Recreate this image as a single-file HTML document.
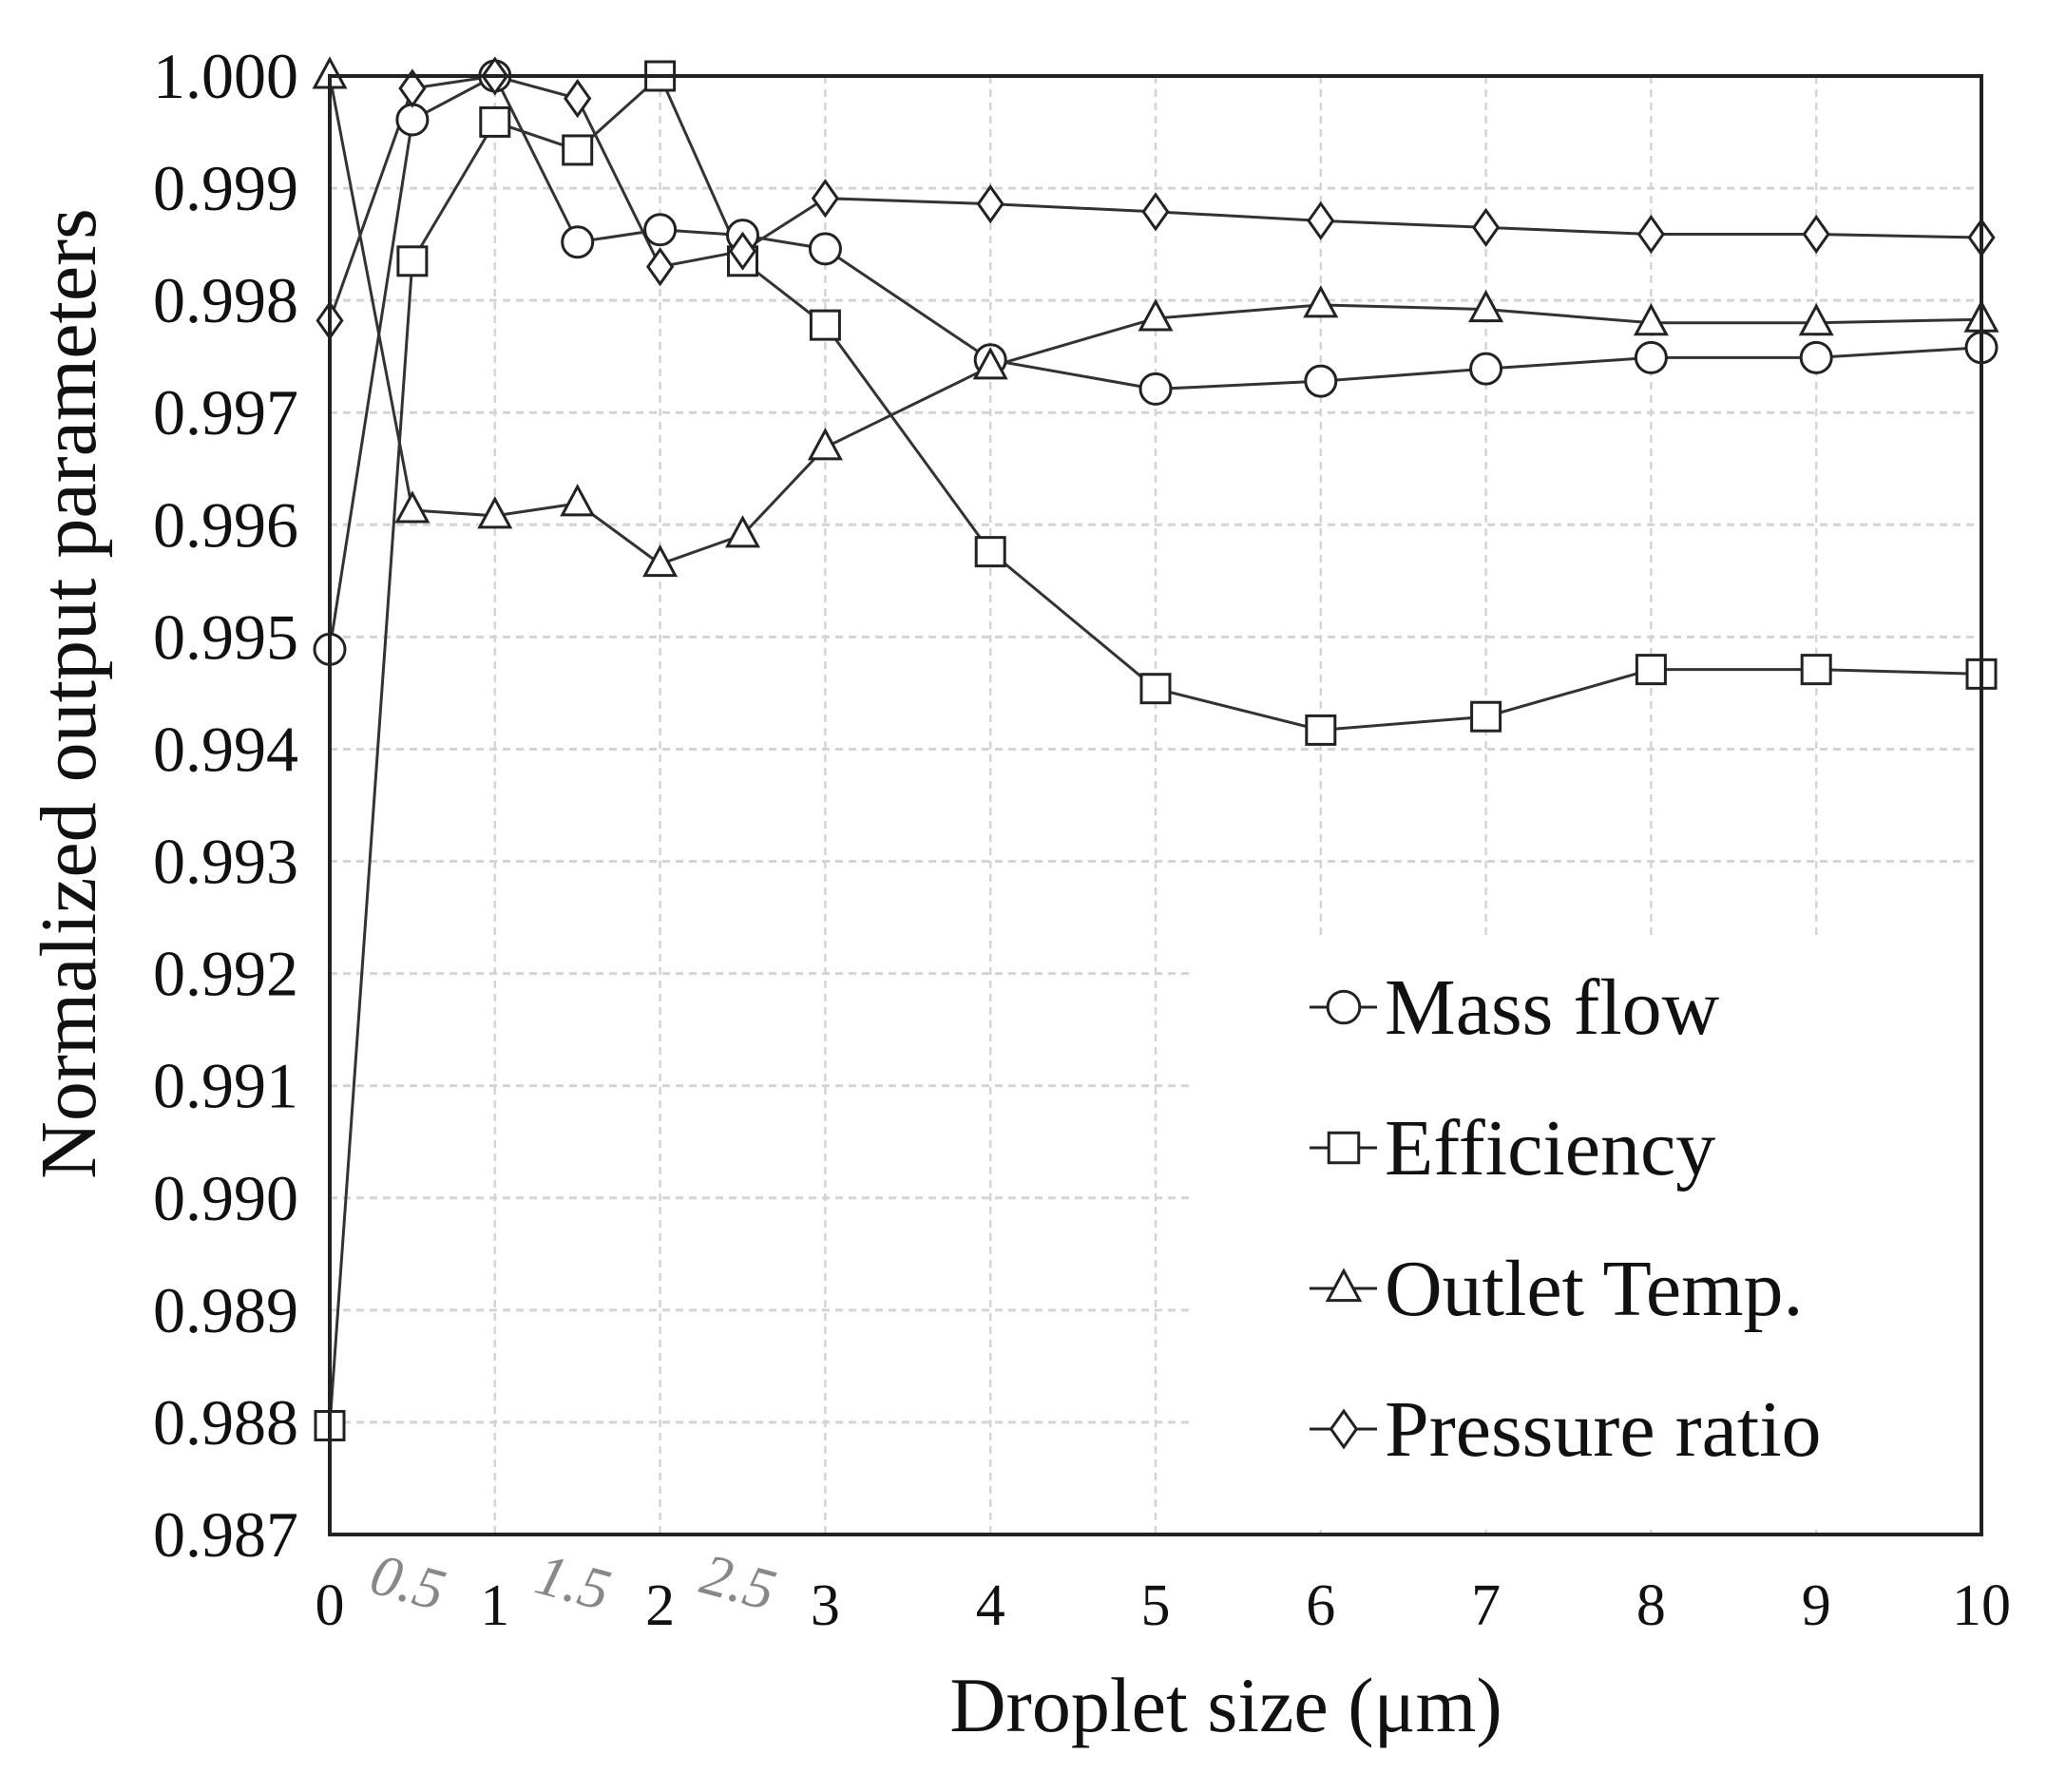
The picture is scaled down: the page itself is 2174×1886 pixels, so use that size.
<!DOCTYPE html>
<html><head><meta charset="utf-8"><style>
html,body{margin:0;padding:0;background:#fff;}
svg{display:block;font-family:"Liberation Serif",serif;}
</style></head><body>
<svg id="chart" width="2174" height="1886" viewBox="0 0 2174 1886" xmlns="http://www.w3.org/2000/svg">
<rect width="2174" height="1886" fill="#fff"/>
<g id="grid"></g>
<rect x="1253" y="990" width="828" height="620" fill="#fff"/>
<g id="series"></g>
<rect x="347" y="80" width="1738" height="1535" fill="none" stroke="#222" stroke-width="4"/>
<g id="ticks"></g>
<text x="1290" y="1822" font-size="82" text-anchor="middle" fill="#111">Droplet size (μm)</text>
<text transform="translate(100,730) rotate(-90)" font-size="84" text-anchor="middle" fill="#111">Normalized output parameters</text>
<g id="legend"></g>
</svg>
<script>
const xValues = [0,0.5,1,1.5,2,2.5,3,4,5,6,7,8,9,10];
const massFlow = [0.99489,0.99961,1.0,0.99852,0.99863,0.99858,0.99846,0.99747,0.99721,0.99728,0.99739,0.99749,0.99749,0.99758];
const efficiency = [0.98797,0.99835,0.99959,0.99934,1.0,0.99835,0.99778,0.99576,0.99454,0.99417,0.99429,0.99471,0.99471,0.99467];
const outletTemp = [1.0,0.99613,0.99608,0.99619,0.99565,0.99591,0.99669,0.99741,0.99784,0.99796,0.99792,0.99780,0.99780,0.99783];
const pressureRatio = [0.99782,0.99989,1.0,0.9998,0.9983,0.99844,0.99891,0.99886,0.99879,0.99871,0.99865,0.99859,0.99859,0.99856];
const xTicks = [0,1,2,3,4,5,6,7,8,9,10];
const xHalfTicks = [0.5,1.5,2.5];
const yTicks = [0.987,0.988,0.989,0.990,0.991,0.992,0.993,0.994,0.995,0.996,0.997,0.998,0.999,1.000];
const seriesNames = ["Mass flow","Efficiency","Outlet Temp.","Pressure ratio"];

const NS="http://www.w3.org/2000/svg";
const X0=347,X1=2085,Y0=80,Y1=1615,XMIN=0,XMAX=10,YMIN=0.987,YMAX=1.0;
function sx(v){return X0+(v-XMIN)/(XMAX-XMIN)*(X1-X0);}
function sy(v){return Y1-(v-YMIN)/(YMAX-YMIN)*(Y1-Y0);}
function mk(tag,attrs,parent){const e=document.createElementNS(NS,tag);for(const k in attrs)e.setAttribute(k,attrs[k]);parent.appendChild(e);return e;}

const grid=document.getElementById('grid');
yTicks.forEach(t=>{if(t===YMAX||t===YMIN)return;
  const l=mk('line',{x1:X0,x2:X1,y1:sy(t),y2:sy(t),stroke:'#d4d4d4','stroke-width':3,'stroke-dasharray':'8,6'},grid);
  
  
});
xTicks.forEach(t=>{if(t===XMIN||t===XMAX)return;
  const l=mk('line',{x1:sx(t),x2:sx(t),y1:Y0,y2:Y1,stroke:'#d4d4d4','stroke-width':2.5,'stroke-dasharray':'8,6'},grid);
  
  
});

const ticks=document.getElementById('ticks');
yTicks.forEach(t=>{
  const e=mk('text',{x:314,y:sy(t)+23,'font-size':68,'text-anchor':'end',fill:'#111'},ticks);
  e.textContent=t.toFixed(3);
  
  
});
xTicks.forEach(t=>{
  const e=mk('text',{x:sx(t),y:1710,'font-size':62,'text-anchor':'middle',fill:'#111'},ticks);
  e.textContent=String(t);
  
  
});
xHalfTicks.forEach(t=>{
  const e=mk('text',{x:0,y:0,'font-size':62,'text-anchor':'middle',fill:'#888','font-style':'italic',transform:'translate('+(sx(t)-10)+',1685) rotate(15)'},ticks);
  e.textContent=String(t);
  
  
});

function marker(type,cx,cy,parent,s){
  s=s||1;let e;
  const st={fill:'#fff',stroke:'#222','stroke-width':3};
  if(type==='circle'){e=mk('circle',Object.assign({cx:cx,cy:cy,r:16*s},st),parent);}
  else if(type==='square'){const h=15*s;e=mk('rect',Object.assign({x:cx-h,y:cy-h,width:2*h,height:2*h},st),parent);}
  else if(type==='triangle'){const h=16*s;e=mk('polygon',Object.assign({points:cx+','+(cy-h*1.1)+' '+(cx-h)+','+(cy+h*0.75)+' '+(cx+h)+','+(cy+h*0.75)},st),parent);}
  else {const h=15*s;e=mk('polygon',Object.assign({points:cx+','+(cy-h*1.2)+' '+(cx+h*0.85)+','+cy+' '+cx+','+(cy+h*1.2)+' '+(cx-h*0.85)+','+cy},st),parent);}
  return e;
}
const series=[massFlow,efficiency,outletTemp,pressureRatio];
const types=['circle','square','triangle','diamond'];
const slugs=['mass-flow','efficiency','outlet-temp','pressure-ratio'];
const sg=document.getElementById('series');
series.forEach((vals,i)=>{
  const g=mk('g',{},sg);
  
  
  const pts=vals.map((v,j)=>sx(xValues[j])+','+sy(v)).join(' ');
  const pl=mk('polyline',{points:pts,fill:'none',stroke:'#333','stroke-width':3},g);
  
  
});
series.forEach((vals,i)=>{
  vals.forEach((v,j)=>{
    const m=marker(types[i],sx(xValues[j]),sy(v),sg);
    
    
  });
});

const lg=document.getElementById('legend');


seriesNames.forEach((n,i)=>{
  const cy=1060+i*148;
  const g=mk('g',{},lg);
  
  
  mk('line',{x1:1378,x2:1449,y1:cy,y2:cy,stroke:'#222','stroke-width':3},g);
  marker(types[i],1414,cy,g,1.05);
  const t=mk('text',{x:1457,y:cy+28,'font-size':84,fill:'#111'},g);
  t.textContent=n;
});
</script>
</body></html>
